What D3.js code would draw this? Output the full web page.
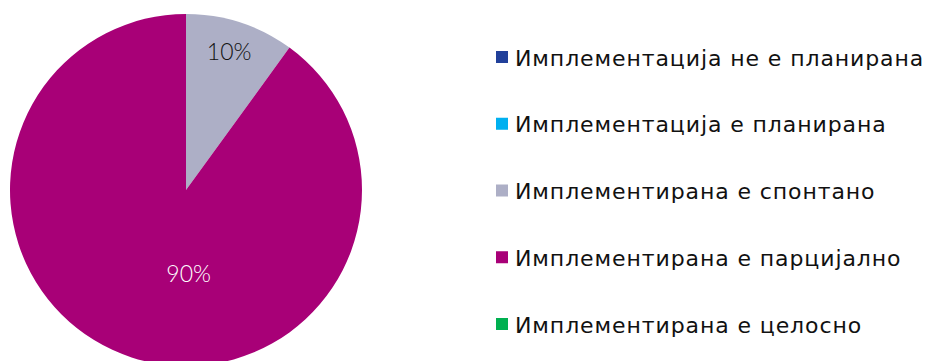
<!DOCTYPE html>
<html>
<head>
<meta charset="utf-8">
<script src="https://cdn.jsdelivr.net/npm/d3@7"></script>
<style>
  html, body { margin: 0; padding: 0; background: #fff; }
  svg { display: block; }
</style>
</head>
<body>
<svg id="chart" width="929" height="361"></svg>
<script>
// ---- data ----
const categories = [
  "Имплементација не е планирана",
  "Имплементација е планирана",
  "Имплементирана е спонтано",
  "Имплементирана е парцијално",
  "Имплементирана е целосно"
];
const values = [0, 0, 10, 90, 0];
const colors = ["#21409A", "#00B0F0", "#ADAFC6", "#A80077", "#00B050"];
const labelColors = ["#111", "#111", "#111", "#ffffff", "#111"];

// ---- layout ----
const W = 929, H = 361;
const cx = 186, cy = 190, R = 176;
const svg = d3.select("#chart");

const pie = d3.pie().sort(null).value(d => d.value);
const data = categories.map((c, i) => ({ name: c, value: values[i], color: colors[i], lc: labelColors[i] }));
const arcs = pie(data);
const arc = d3.arc().innerRadius(0).outerRadius(R);
const total = d3.sum(values);

const g = svg.append("g").attr("transform", `translate(${cx},${cy})`);
g.selectAll("path.slice").data(arcs.filter(a => a.data.value > 0)).join("path")
  .attr("class", "slice")
  .attr("d", arc)
  .attr("fill", d => d.data.color);

// labels: small slice label near the rim, large slice label near the middle-bottom (best-fit style)
const rimLabel = d3.arc().innerRadius(R * 0.83).outerRadius(R * 0.83);
g.selectAll("text.lbl").data(arcs.filter(a => a.data.value > 0)).join("text")
  .attr("class", "lbl")
  .attr("transform", d => {
    const share = d.data.value / total;
    if (share < 0.5) {
      const [x, y] = rimLabel.centroid(d);
      return `translate(${x - 2},${y})`;
    }
    const ang = Math.PI * 0.99; // roughly straight down
    const r = R * 0.47;
    return `translate(${r * Math.sin(ang)},${-r * Math.cos(ang)})`;
  })
  .attr("text-anchor", "middle")
  .attr("dominant-baseline", "central")
  .attr("font-family", "Lato, 'Open Sans', sans-serif")
  .attr("font-weight", 300)
  .attr("font-size", 23)
  .attr("fill", d => d.data.lc)
  .text(d => d3.format(".0%")(d.data.value / total));

// ---- legend ----
const legend = svg.append("g").attr("transform", "translate(496,0)");
const ly = d3.scalePoint().domain(categories).range([57, 324]);
const items = legend.selectAll("g.item").data(data).join("g")
  .attr("class", "item")
  .attr("transform", d => `translate(0,${ly(d.name)})`);
items.append("rect")
  .attr("x", 0).attr("y", -6).attr("width", 12).attr("height", 12)
  .attr("fill", d => d.color);
items.append("text")
  .attr("x", 19).attr("y", 1)
  .attr("dominant-baseline", "central")
  .attr("font-family", "'DejaVu Sans', sans-serif")
  .attr("font-size", 22)
  .attr("letter-spacing", 0.9)
  .attr("fill", "#111")
  .text(d => d.name);
</script>
</body>
</html>
